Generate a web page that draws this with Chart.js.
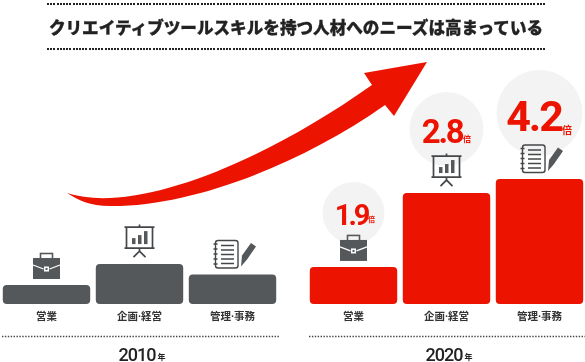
<!DOCTYPE html>
<html lang="ja"><head><meta charset="utf-8">
<script src="https://cdn.jsdelivr.net/npm/chart.js@4/dist/chart.umd.min.js"></script>
<style>
html,body{margin:0;padding:0;background:#fff;width:585px;height:362px;overflow:hidden;position:relative}
canvas{position:absolute;top:0}
#c1{left:0}#c2{left:307px}
#title{position:absolute;left:47px;width:498px;top:0;height:56px;text-align:center;
font:900 16.6px/54px "Noto Sans CJK JP",sans-serif;color:#222;white-space:nowrap;-webkit-text-stroke:.3px #222}
.dots{position:absolute;left:47px;width:498px;height:2px;background:repeating-linear-gradient(90deg,#222 0 2px,transparent 2px 3.2px)}
svg{position:absolute;left:0;top:0}
</style></head><body>
<canvas id="c1" width="279" height="362"></canvas>
<canvas id="c2" width="279" height="362"></canvas>
<div class="dots" style="top:3px"></div>
<div id="title"></div>
<div class="dots" style="top:48px"></div>
<svg width="585" height="362"><path fill="#EC1300" d="M67,193 Q85,199 110,198 C180,195 280,150 372,85 L364,73 L427,62 L394,116 L385,105 C300,165 190,207 110,206 C90,206 78,200 67,193 Z"/></svg>
<script>
const titleText = 'クリエイティブツールスキルを持つ人材へのニーズは高まっている';
const categories = ['営業', '企画·経営', '管理·事務'];
const years = ['2010', '2020'];
const values2010 = [1.0, 2.1, 1.55];
const values2020 = [1.95, 5.84, 6.58];
const multiples = ['1.9', '2.8', '4.2'];
const yMax = 16;

document.getElementById('title').textContent = titleText;
const RED = '#EC1300', GRAY = '#55585A', INK = '#222';
const JP = '"Noto Sans CJK JP",sans-serif';

function briefcase(c, x, top) {
  const b = top - 6;
  c.fillStyle = GRAY; c.strokeStyle = GRAY; c.lineWidth = 1.6;
  c.strokeRect(x - 6, b - 25.5, 12, 6);
  c.fillRect(x - 13.5, b - 21, 27, 21);
  c.strokeStyle = '#fff'; c.lineWidth = 1.3;
  c.beginPath(); c.moveTo(x - 13.5, b - 14); c.lineTo(x - 3, b - 10); c.moveTo(x + 3, b - 10); c.lineTo(x + 13.5, b - 14); c.stroke();
  c.fillStyle = '#fff'; c.fillRect(x - 2.5, b - 12.5, 5, 5);
  c.fillStyle = GRAY; c.fillRect(x - 1, b - 11, 2, 2);
}
function board(c, x, top) {
  const y = top - 40;
  c.strokeStyle = '#44474a'; c.fillStyle = GRAY; c.lineWidth = 1.7;
  c.beginPath();
  c.moveTo(x - 15, y + 3); c.lineTo(x + 15, y + 3);
  c.moveTo(x - 15, y + 24); c.lineTo(x + 15, y + 24);
  c.moveTo(x - 13, y + 3); c.lineTo(x - 13, y + 24);
  c.moveTo(x + 13, y + 3); c.lineTo(x + 13, y + 24);
  c.moveTo(x, y + 0.5); c.lineTo(x, y + 3);
  c.moveTo(x, y + 24); c.lineTo(x, y + 27);
  c.moveTo(x - 6, y + 33); c.lineTo(x, y + 27); c.lineTo(x + 6, y + 33);
  c.stroke();
  c.fillRect(x - 7.5, y + 14, 3.5, 6);
  c.fillRect(x - 1.5, y + 11, 3.5, 9);
  c.fillRect(x + 4.5, y + 7, 3.5, 13);
}
function notes(c, x, top) {
  const y = top - 34;
  c.strokeStyle = '#44474a'; c.fillStyle = GRAY; c.lineWidth = 1.4;
  c.beginPath(); c.roundRect(x - 17, y, 22.5, 27.5, 2.5); c.stroke();
  c.beginPath();
  for (let i = 0; i < 5; i++) {
    c.moveTo(x - 19, y + 3.5 + i * 5); c.lineTo(x - 15, y + 3.5 + i * 5);
    c.moveTo(x - 11.5, y + 5 + i * 4.5); c.lineTo(x + 1.5, y + 5 + i * 4.5);
  }
  c.stroke();
  c.beginPath();
  c.moveTo(x + 8.5, y + 26); c.lineTo(x + 9.5, y + 15); c.lineTo(x + 18.5, y + 2.5);
  c.lineTo(x + 23.5, y + 6); c.lineTo(x + 14.5, y + 19); c.closePath(); c.fill();
}
const icons = [briefcase, board, notes];

const calloutStyle = [
  { dy: -54, r: 31, size: 29, track: -3,   base: -42, right: 14,   unitX: 18,   unitSize: 7,  unitY: -45 },
  { dy: -64, r: 37, size: 33, track: -2.2, base: -50, right: 16,   unitX: 20.5, unitSize: 8,  unitY: -51 },
  { dy: -66, r: 43, size: 43, track: -2,   base: -48, right: 22.5, unitX: 27.5, unitSize: 10, unitY: -45 }
];

function tops(chart) { return chart.getDatasetMeta(0).data.map(b => ({ x: b.x, y: b.y })); }

const decor = {
  id: 'decor',
  beforeDatasetsDraw(chart) {
    if (chart.$idx !== 1) return;
    const c = chart.ctx; c.save(); c.fillStyle = '#F3F3F3';
    tops(chart).forEach((p, i) => { const s = calloutStyle[i];
      c.beginPath(); c.arc(p.x, p.y + s.dy, s.r, 0, 7); c.fill(); });
    c.restore();
  },
  afterDraw(chart) {
    const c = chart.ctx; c.save();
    const { left, right } = chart.chartArea;
    c.strokeStyle = '#444'; c.lineWidth = 1.4; c.setLineDash([1.4, 1.5]);
    c.beginPath(); c.moveTo(left + 2, 336.5); c.lineTo(right, 336.5); c.stroke(); c.setLineDash([]);
    const cx = (left + right) / 2 + 2.5, yr = years[chart.$idx];
    c.fillStyle = INK; c.textBaseline = 'alphabetic'; c.textAlign = 'left';
    c.font = '500 18px Roboto,sans-serif';
    c.letterSpacing = '-1px';
    const w = c.measureText(yr).width;
    const start = cx - (w + 10) / 2;
    c.fillText(yr, start, 360.5);
    c.letterSpacing = '0px';
    c.font = '700 8px ' + JP; c.fillText('年', start + w + 2, 360);
    tops(chart).forEach((p, i) => icons[i](c, p.x, p.y));
    if (chart.$idx === 1) {
      tops(chart).forEach((p, i) => { const s = calloutStyle[i];
        c.fillStyle = RED; c.textAlign = 'right';
        c.letterSpacing = s.track + 'px';
        c.font = '700 ' + s.size + 'px Roboto,sans-serif';
        c.fillText(multiples[i], p.x + s.right, p.y + s.base);
        c.letterSpacing = '0px';
        c.textAlign = 'center'; c.font = '700 ' + s.unitSize + 'px ' + JP;
        c.fillText('倍', p.x + s.unitX, p.y + s.unitY);
      });
    }
    c.restore();
  }
};

function build(id, idx, values, color) {
  return new Chart(document.getElementById(id), {
    type: 'bar',
    data: { labels: categories, datasets: [{ data: values, backgroundColor: color, borderRadius: 4, borderSkipped: false,
      categoryPercentage: 1, barPercentage: 0.94 }] },
    options: {
      responsive: false, animation: false, devicePixelRatio: 1,
      layout: { padding: 0 },
      plugins: { legend: { display: false }, tooltip: { enabled: false }, title: { display: false } },
      scales: {
        y: { display: false, min: 0, max: yMax },
        x: { grid: { display: false, drawTicks: false }, border: { display: false },
          afterFit(s) { s.height = 58; },
          ticks: { padding: 7, color: '#333', maxRotation: 0, autoSkip: false, font: { family: 'Roboto,' + JP, size: 10.5, weight: '700' } } }
      }
    },
    plugins: [{ id: 'tag', beforeInit(ch) { ch.$idx = idx; } }, decor]
  });
}
build('c1', 0, values2010, GRAY);
build('c2', 1, values2020, RED);
</script>
</body></html>
